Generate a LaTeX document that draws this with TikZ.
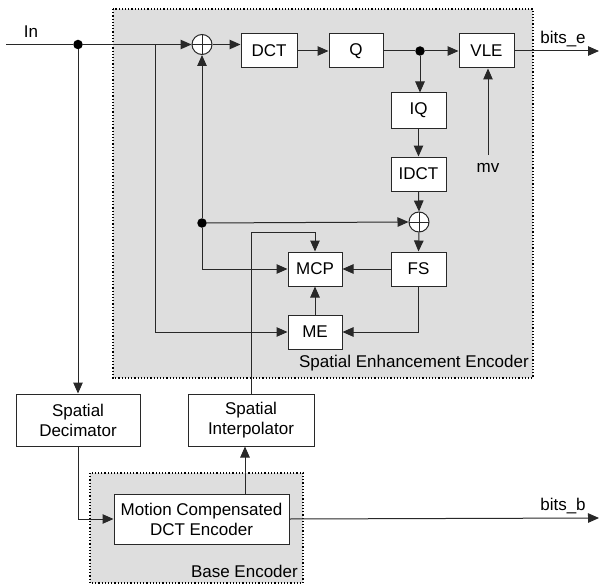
\documentclass[tikz,border=0pt]{standalone}
\usepackage{fontspec}
\setmainfont{Liberation Sans}
\usetikzlibrary{arrows.meta,calc}
\definecolor{regbg}{RGB}{222,222,222}
\definecolor{ln}{RGB}{40,40,40}
\begin{document}
\begin{tikzpicture}[x=1pt,y=-1pt,
  font=\fontsize{17}{20}\selectfont,
  blk/.style={draw=ln,line width=1pt,fill=white,inner sep=0pt,align=center},
  conn/.style={draw=ln,line width=1pt},
  arr/.style={conn,-{Triangle[length=11pt,width=9.5pt]}},
  region/.style={fill=regbg,draw=black,dotted,line width=1.2pt},
  junc/.style={circle,fill=black,inner sep=0pt,minimum size=9.5pt},
  summer/.style={circle,draw=ln,line width=1pt,fill=white,minimum size=20pt,inner sep=0pt,
    path picture={\draw[ln,line width=1pt] (path picture bounding box.north) -- (path picture bounding box.south)
      (path picture bounding box.west) -- (path picture bounding box.east);}},
  lbl/.style={inner sep=0pt}]
\useasboundingbox (0,0) rectangle (600,586);
% regions
\draw[region] (113,9) rectangle (533,378);
\draw[region] (90,473) rectangle (303,583);
\node[lbl,anchor=east] (seelbl) at (529,363) {Spatial Enhancement Encoder};
\node[lbl,anchor=east] (belbl) at (298,571) {Base Encoder};
% blocks
\node[blk,minimum width=56pt,minimum height=34pt] (DCT) at (269,51) {DCT};
\node[blk,minimum width=54pt,minimum height=34pt] (Q) at (356,51) {Q};
\node[blk,minimum width=55pt,minimum height=34pt] (VLE) at (486.5,51) {VLE};
\node[blk,minimum width=55pt,minimum height=35pt] (IQ) at (418.5,110.5) {IQ};
\node[blk,minimum width=55pt,minimum height=34pt] (IDCT) at (418.5,174) {IDCT};
\node[blk,minimum width=55pt,minimum height=34pt] (FS) at (418.5,269) {FS};
\node[blk,minimum width=54pt,minimum height=34pt] (MCP) at (315,269) {MCP};
\node[blk,minimum width=54pt,minimum height=34pt] (ME) at (315,332) {ME};
\node[blk,minimum width=124pt,minimum height=52pt] (DEC) at (78,420) {Spatial\\Decimator};
\node[blk,minimum width=126pt,minimum height=52pt] (INT) at (251,420) {Spatial\\Interpolator};
\node[blk,minimum width=175pt,minimum height=50pt] (MC) at (201.5,519) {Motion Compensated\\DCT Encoder};
\node[summer] (S1) at (202,44.5) {};
\node[summer] (S2) at (419,222) {};
% coordinates
\coordinate (inL) at (6,44.5);
\coordinate (tap) at (155,44.5);
\coordinate (mvp) at (488,155);
\coordinate (be) at (599,51);
\coordinate (bb) at (599,518);
\node[junc] (J1) at (78,44.5) {};
\node[junc] (J2) at (420,51) {};
\node[junc] (J3) at (202,223) {};
% labels
\node[lbl] (inlbl) at (31,32) {In};
\node[lbl] (mvlbl) at (488,168) {mv};
\node[lbl] (belbl2) at (563,39) {bits\_e};
\node[lbl] (bblbl) at (563,506) {bits\_b};
% connectors
\draw[conn] (inL) -- (J1) -- (tap);
\draw[arr] (tap) -- (S1.west);
\draw[arr] (tap) |- (ME.west);
\draw[arr] (S1.east) -- (DCT.west |- S1.east);
\draw[arr] (DCT.east) -- (Q.west);
\draw[conn] (Q.east) -- (J2);
\draw[arr] (J2) -- (VLE.west);
\draw[arr] (J2) -- (IQ.north -| J2);
\draw[arr] (IQ.south) -- (IDCT.north);
\draw[arr] (IDCT.south) -- (S2.north);
\draw[arr] (S2.south) -- (FS.north);
\draw[arr] (mvp) -- (VLE.south -| mvp);
\draw[arr] (VLE.east) -- (be);
\draw[arr] (J3) -- (S1.south);
\draw[arr] (J3) -- (S2.west);
\draw[arr] (J3) |- (MCP.west);
\draw[arr] (FS.west) -- (MCP.east);
\draw[arr] (FS.south) |- (ME.east);
\draw[arr] (ME.north) -- (MCP.south);
\draw[arr] (INT.north) -- ++(0,-161) -| (MCP.north);
\draw[arr] (J1) -- (DEC.north);
\draw[arr] (DEC.south) |- (MC.west);
\draw[arr] (MC.north -| 245,0) -- (INT.south -| 245,0);
\draw[arr] (MC.east) -- (bb);
\end{tikzpicture}
\end{document}
